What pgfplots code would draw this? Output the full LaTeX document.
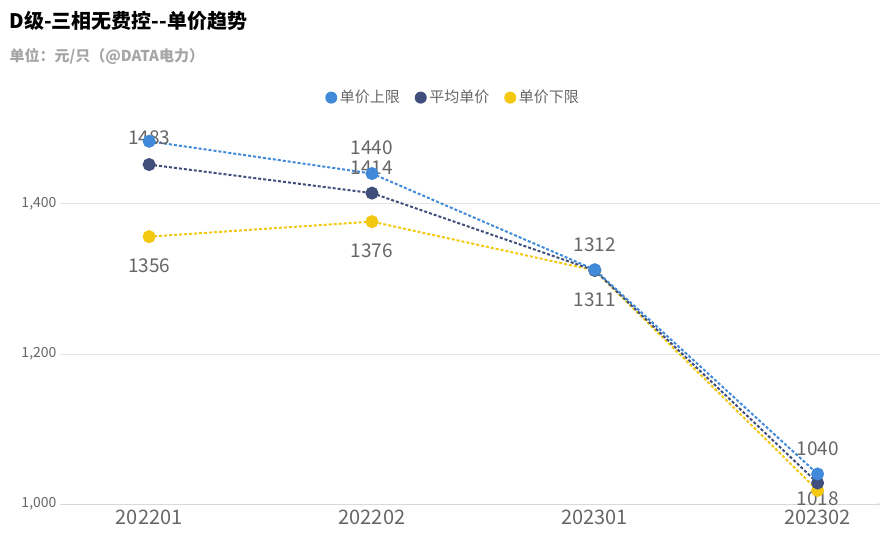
\documentclass[border=0pt]{standalone}
\usepackage{pgfplots}
\pgfplotsset{compat=1.18}
\usepackage{fontspec}
\setmainfont{Noto Sans CJK SC}
\definecolor{cU}{HTML}{418AD9}
\definecolor{cA}{HTML}{404E7C}
\definecolor{cL}{HTML}{F2C811}
\definecolor{tg}{HTML}{666666}
\begin{document}
\begin{tikzpicture}
\begin{axis}[
  at={(0,0)}, anchor=south west,
  scale only axis, width=820pt, height=383pt,
  xmin=-0.4, xmax=3.28, ymin=1000, ymax=1510,
  xtick={0,1,2,3}, xticklabels={202201,202202,202301,202302},
  ytick={1000,1200,1400},
  /pgf/number format/assume math mode=true,
  yticklabel style={font=\fontsize{14}{14}\selectfont, text=tg},
  xticklabel style={font=\fontsize{20}{20}\selectfont, text=tg, yshift=-2pt},
  ymajorgrids, grid style={draw=black!10},
  axis line style={draw=black!15},
  axis x line=bottom, axis y line=left,
  y axis line style={draw=none},
  major tick length=0pt,
  clip=false,
  every axis plot/.append style={line width=2pt, dash pattern=on 3pt off 2pt},
  nodes near coords, point meta=explicit symbolic,
  every node near coord/.append style={font=\fontsize{19}{19}\selectfont, text=tg},
]
\addplot[cL, mark=*, mark size=5.5pt, mark options={solid}, every node near coord/.append style={anchor=north, yshift=-18pt}]
  coordinates {(0,1356)[1356] (1,1376)[1376] (2,1311)[1311] (3,1018)[]};
\addplot[cA, mark=*, mark size=5.5pt, mark options={solid}, every node near coord/.append style={anchor=south, yshift=14pt}]
  coordinates {(0,1452)[] (1,1414)[1414] (2,1311)[] (3,1028)[]};
\addplot[cU, mark=*, mark size=5.5pt, mark options={solid}, every node near coord/.append style={anchor=south, yshift=14pt}]
  coordinates {(0,1483)[] (1,1440)[1440] (2,1312)[1312] (3,1040)[1040]};
\node[font=\fontsize{19}{19}\selectfont, text=tg] at (axis cs:0,1483) [yshift=4pt] {1483};
\node[font=\fontsize{19}{19}\selectfont, text=tg] at (axis cs:3,1018) [yshift=-8pt] {1018};
\end{axis}
\node[anchor=west, font=\bfseries\fontsize{20}{20}\selectfont] at (-54pt,483pt) {D级-三相无费控-{}-单价趋势};
\node[anchor=west, font=\bfseries\fontsize{15}{15}\selectfont, text=black!35] at (-54pt,448pt) {单位：元/只（@DATA电力）};
\node[font=\fontsize{15}{15}\selectfont, text=tg] at (392pt,407pt) {%
\textcolor{cU}{\raisebox{-1pt}{\tikz\fill circle (6pt);}}\,单价上限\quad
\textcolor{cA}{\raisebox{-1pt}{\tikz\fill circle (6pt);}}\,平均单价\quad
\textcolor{cL}{\raisebox{-1pt}{\tikz\fill circle (6pt);}}\,单价下限};
\pgfresetboundingbox
\useasboundingbox (-60pt,-49pt) rectangle (820pt,504pt);
\end{tikzpicture}
\end{document}
